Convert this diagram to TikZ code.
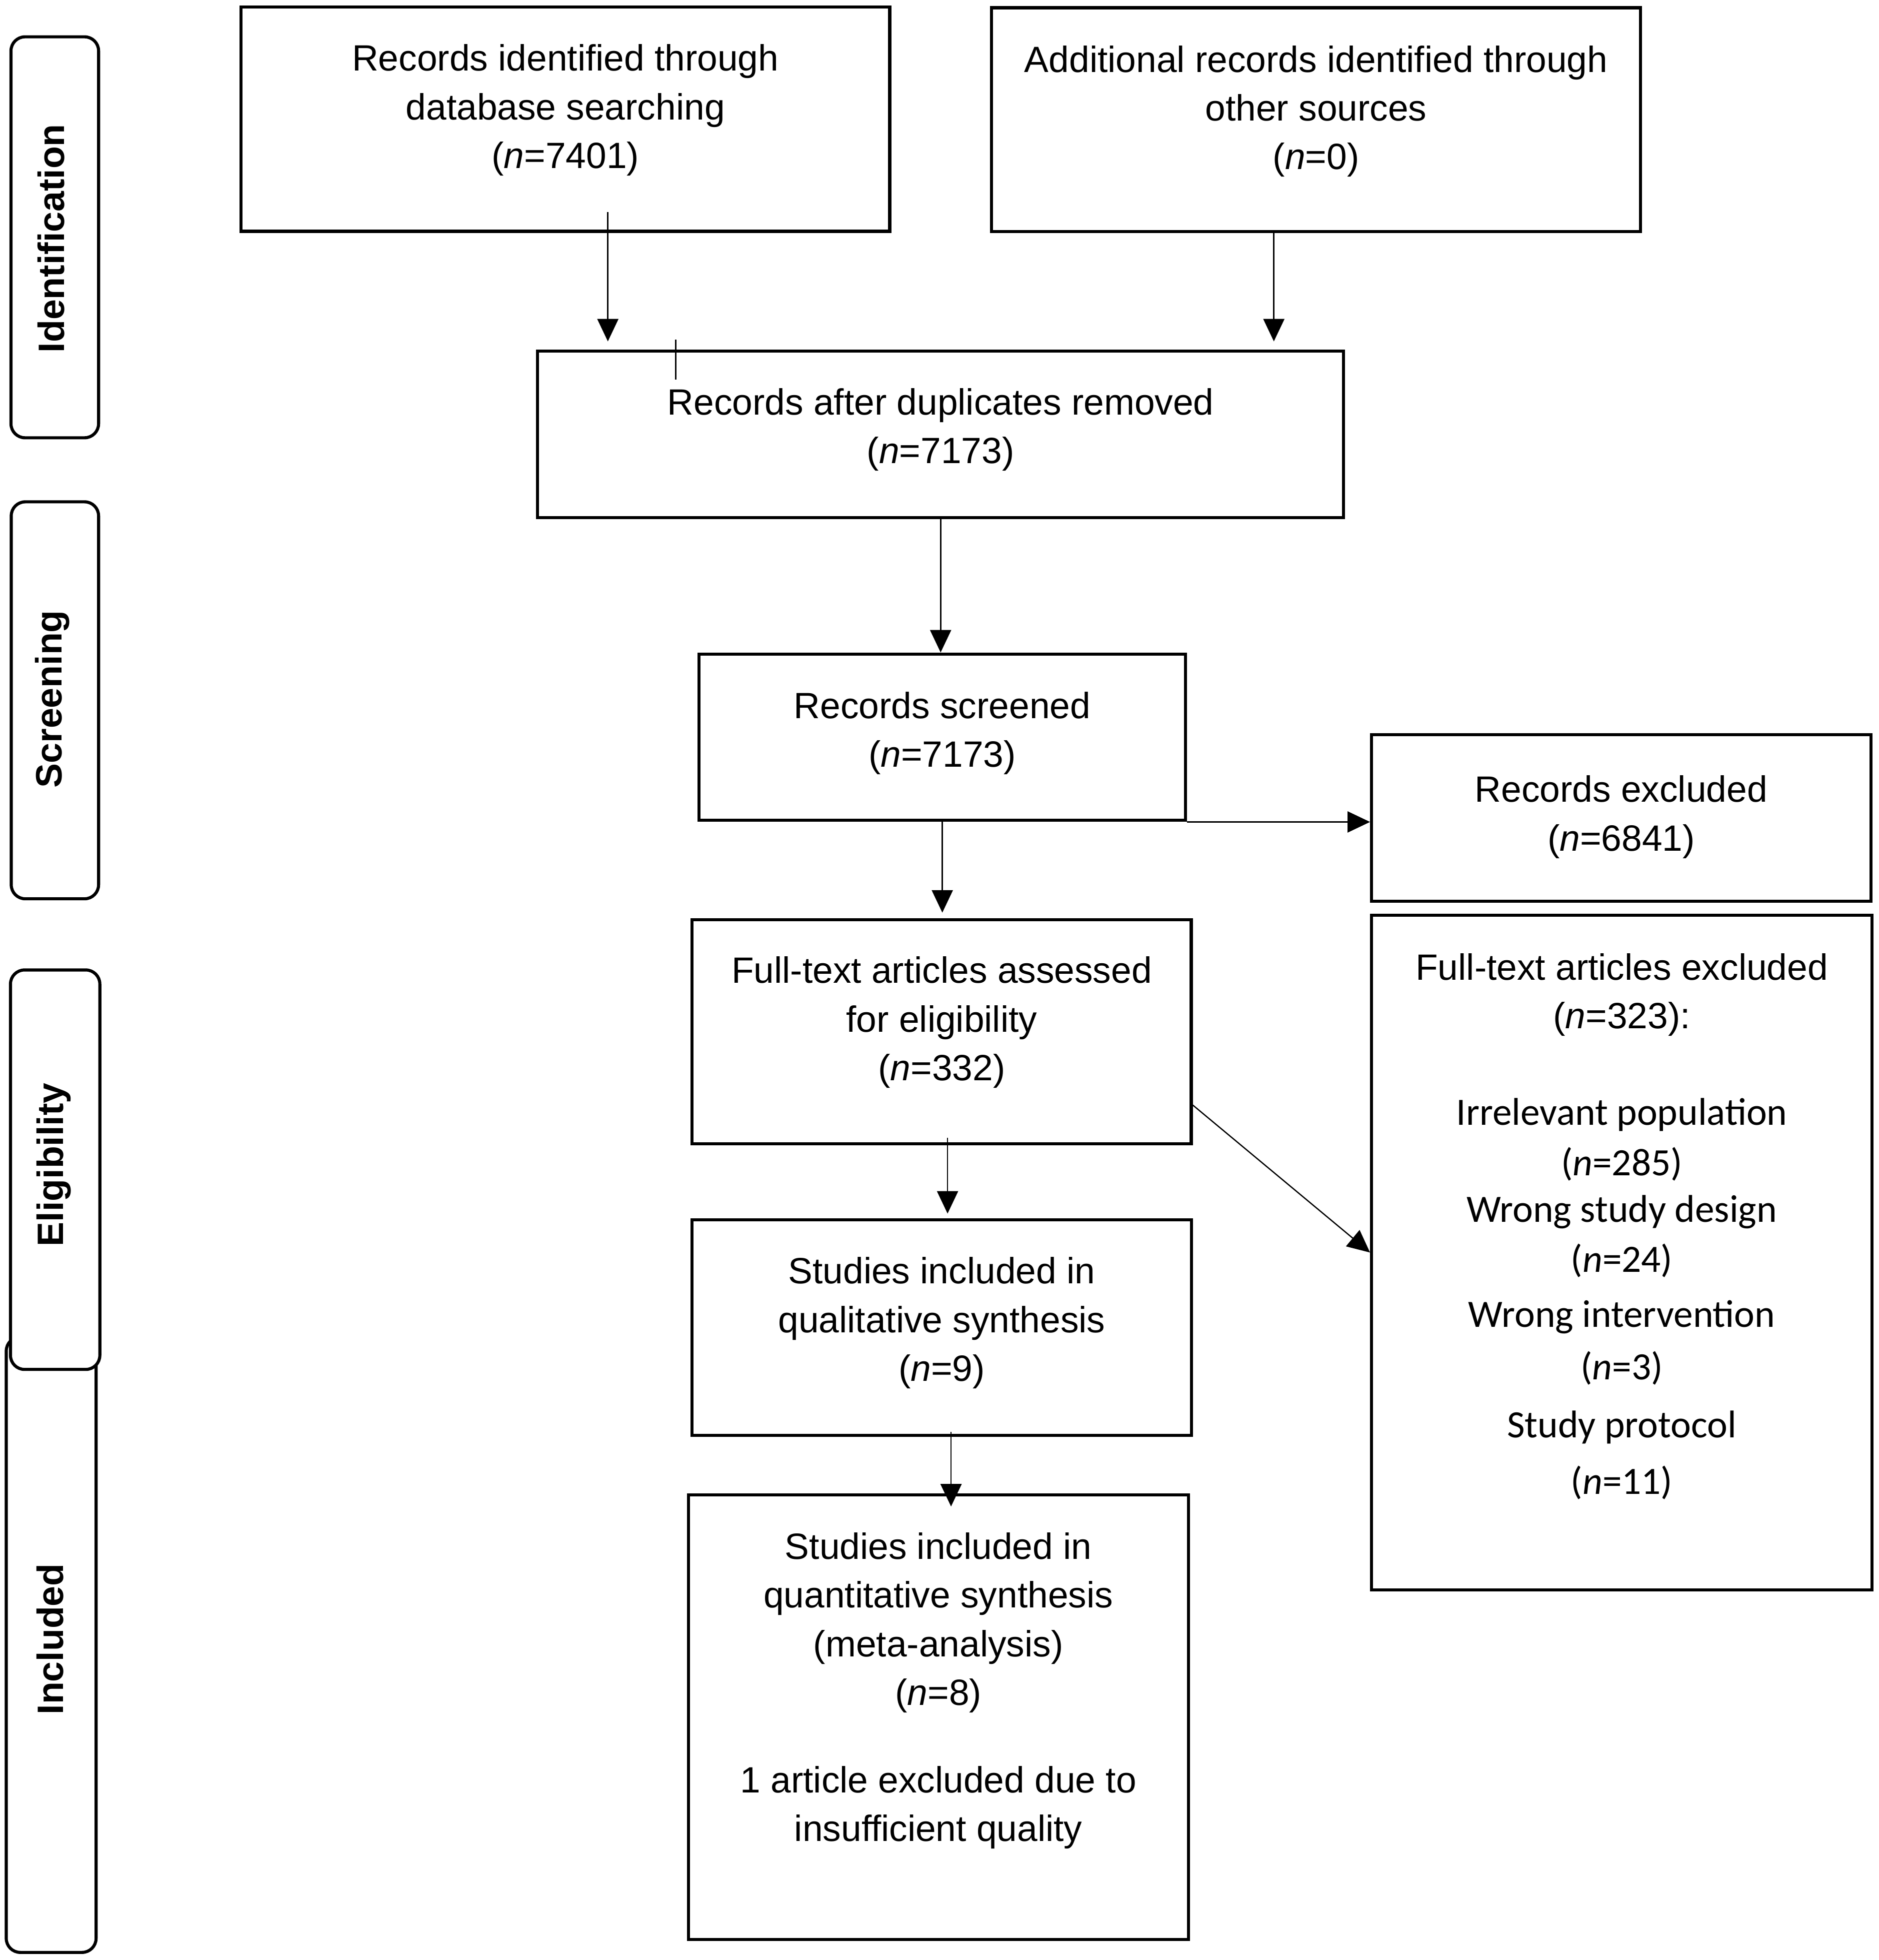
\documentclass[tikz,border=0pt]{standalone}
\usepackage{fontspec}
\setmainfont{Liberation Sans}
\newfontfamily\calib{Carlito}
\usetikzlibrary{arrows.meta,calc}
\def\myu{0.02496cm}
\begin{document}
\begin{tikzpicture}[x=0.02496cm, y=-0.02496cm,
  box/.style={draw, line width=1.75pt, inner sep=0pt, rectangle},
  lab/.style={draw, line width=1.75pt, rounded corners=8pt, inner sep=0pt, fill=white},
  txt/.style={align=center, inner sep=0pt, anchor=north, font=\fontsize{20.8pt}{27.7pt}\selectfont},
  ctxt/.style={align=center, inner sep=0pt, anchor=north, font=\calib\fontsize{22pt}{26.6pt}\selectfont},
  labtxt/.style={rotate=90, inner sep=0pt, font=\bfseries\fontsize{20.9pt}{25pt}\selectfont},
  arr/.style={line width=0.7pt, -{Triangle[length=12.8pt,width=12pt]}},
  tick/.style={line width=0.9pt}
]
\useasboundingbox (0,0) rectangle (1505.2,1570.1);

% stage labels
\node[lab, minimum width=72*\myu, minimum height=493*\myu] (Lincl) at (41,1317.5) {};
\node[lab, minimum width=70.2*\myu, minimum height=321.2*\myu] (Lident) at (43.9,190.1) {};
\node[lab, minimum width=70*\myu, minimum height=318*\myu] (Lscreen) at (44,561) {};
\node[lab, minimum width=71.6*\myu, minimum height=320*\myu] (Lelig) at (44.2,937) {};
\node[labtxt] (Tident) at (41,191) {Identification};
\node[labtxt] (Tscreen) at (42,560) {Screening};
\node[labtxt] (Telig) at (43,933) {Eligibility};
\node[labtxt] (Tincl) at (40,1313) {Included};

% boxes
\node[box, minimum width=519.7*\myu, minimum height=179.7*\myu] (A) at (453.05,95.45) {};
\node[box, minimum width=520*\myu, minimum height=179.3*\myu] (B) at (1054.5,95.85) {};
\node[box, minimum width=645.8*\myu, minimum height=133.4*\myu] (C) at (753.7,347.8) {};
\node[box, minimum width=389.9*\myu, minimum height=133.3*\myu] (D) at (755.05,590.55) {};
\node[box, minimum width=399.9*\myu, minimum height=179.3*\myu] (E) at (754.55,826.55) {};
\node[box, minimum width=400.1*\myu, minimum height=172.7*\myu] (F) at (754.65,1063.45) {};
\node[box, minimum width=400.8*\myu, minimum height=356.1*\myu] (G) at (751.9,1375.55) {};
\node[box, minimum width=400*\myu, minimum height=133.4*\myu] (H) at (1299,655.3) {};
\node[box, minimum width=401*\myu, minimum height=540.3*\myu] (I) at (1299.5,1003.35) {};

% texts
\node[txt] (At) at (453.05,35.3) {Records identified through\\database searching\\(\textit{n}=7401)};
\node[txt] (Bt) at (1054.5,36.2) {Additional records identified through\\other sources\\(\textit{n}=0)};
\node[txt] (Ct) at (753.7,310.8) {Records after duplicates removed\\(\textit{n}=7173)};
\node[txt] (Dt) at (755,554) {Records screened\\(\textit{n}=7173)};
\node[txt] (Et) at (754.6,766.1) {Full-text articles assessed\\for eligibility\\(\textit{n}=332)};
\node[txt] (Ft) at (754.6,1006.9) {Studies included in\\qualitative synthesis\\(\textit{n}=9)};
\node[txt] (Gt) at (751.9,1227.4) {Studies included in\\quantitative synthesis\\(meta-analysis)\\(\textit{n}=8)\\[22pt]1 article excluded due to\\insufficient quality};
\node[txt] (Ht) at (1299,621) {Records excluded\\(\textit{n}=6841)};
\node[txt] (It1) at (1299.5,763.6) {Full-text articles excluded\\(\textit{n}=323):};
\node[ctxt] (It2) at (1299.5,879.3) {Irrelevant population\\[2.2pt](\textit{n}=285)\\Wrong study design\\[1.8pt](\textit{n}=24)\\[4.6pt]Wrong intervention\\[3.2pt](\textit{n}=3)\\[6.5pt]Study protocol\\[5.6pt](\textit{n}=11)};

% connectors
\coordinate (a1) at ($(A.south)+(34,-16.6)$);
\coordinate (a2) at ($(a1 |- C.north)+(0,-6.4)$);
\draw[arr] (a1) -- (a2);
\coordinate (b1) at ($(B.south)+(-33.8,0)$);
\coordinate (b2) at ($(b1 |- C.north)+(0,-6.4)$);
\draw[arr] (b1) -- (b2);
\coordinate (t1) at ($(C.north west)+(111.9,-7.7)$);
\coordinate (t2) at ($(C.north west)+(111.9,24.3)$);
\draw[tick] (t1) -- (t2);
\draw[arr] (C.south) -- (C.south |- D.north);
\coordinate (d2) at ($(D.south |- E.north)+(0,-4.6)$);
\draw[arr] (D.south) -- (d2);
\draw[arr] (D.south east) -- (D.south east -| H.west);
\coordinate (e1) at ($(E.south)+(4.7,-6.1)$);
\coordinate (e2) at ($(e1 |- F.north)+(0,-3.7)$);
\draw[arr] (e1) -- (e2);
\coordinate (e3) at ($(E.south east)+(0,-32.2)$);
\draw[arr] (e3) -- (I.west);
\coordinate (f1) at ($(F.south)+(7.4,-3.9)$);
\coordinate (f2) at ($(f1 |- G.north)+(0,10.5)$);
\draw[arr] (f1) -- (f2);
\end{tikzpicture}
\end{document}
